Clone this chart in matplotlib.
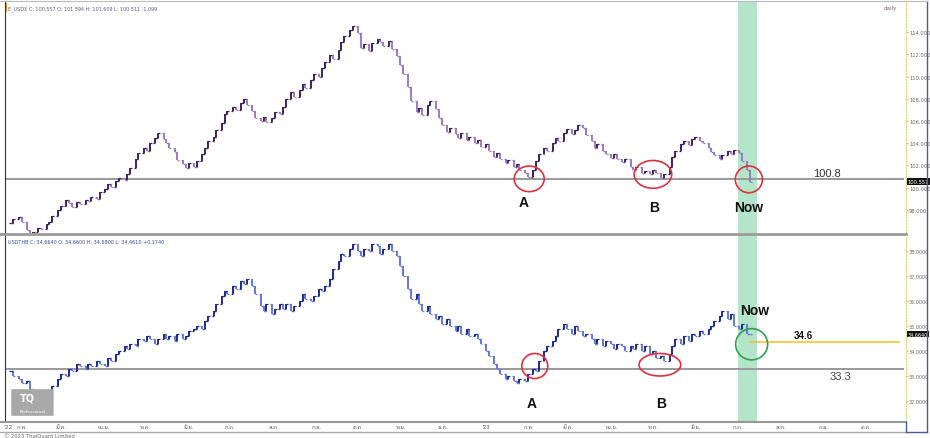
import numpy as np
import pandas as pd
import matplotlib
matplotlib.use('Agg')
import matplotlib.pyplot as plt
from matplotlib.patches import Ellipse, Rectangle, FancyBboxPatch
from matplotlib.lines import Line2D
from matplotlib import font_manager as fm
import matplotlib.dates as mdates

# closes, one bar every 2 business days, ending on 12 Jul 2023
usdx_close = [
    96.8, 97.2, 97.4, 96.9, 96.2, 95.8, 96.0, 96.4, 96.3, 96.7,
    96.9, 97.5, 98.0, 98.4, 98.9, 98.6, 98.3, 98.7, 98.5, 98.9,
    98.8, 99.2, 99.0, 99.6, 99.9, 100.3, 100.1, 100.6, 100.9, 100.7,
    101.2, 101.8, 102.6, 103.1, 103.6, 103.3, 104.0, 104.5, 104.9, 104.4,
    104.0, 103.6, 103.2, 102.5, 102.1, 101.8, 102.2, 101.9, 102.4, 103.0,
    103.6, 104.2, 104.6, 105.2, 105.8, 106.6, 106.9, 107.3, 107.0, 107.6,
    108.0, 107.4, 106.9, 106.3, 106.0, 106.4, 105.9, 106.3, 106.8, 106.6,
    107.3, 108.0, 108.6, 108.2, 108.8, 109.3, 109.0, 109.7, 110.2, 110.0,
    110.8, 111.3, 111.9, 111.6, 112.4, 113.1, 113.6, 114.2, 114.5, 113.9,
    112.6, 112.9, 112.3, 113.0, 113.4, 113.1, 112.7, 113.2, 112.5, 111.8,
    111.0, 110.2, 109.1, 107.8, 106.8, 107.2, 106.5, 107.4, 107.8, 107.1,
    106.3, 105.6, 105.0, 105.4, 104.8, 104.5, 104.9, 104.3, 104.6, 104.0,
    104.3, 103.7, 103.9, 103.3, 102.8, 103.1, 102.6, 102.2, 102.5, 101.9,
    102.1, 101.6, 101.3, 101.0, 101.6, 102.4, 103.0, 103.6, 103.3, 104.0,
    104.5, 104.2, 104.9, 105.3, 104.8, 105.2, 105.6, 105.4, 104.7, 104.2,
    103.6, 103.9, 103.3, 103.0, 102.7, 103.0, 102.6, 102.3, 102.6, 101.9,
    101.6, 101.9, 101.3, 101.5, 101.2, 101.6, 101.3, 100.9, 101.2, 101.9,
    102.8, 103.3, 103.9, 104.2, 103.8, 104.4, 104.6, 104.2, 104.0, 103.6,
    103.2, 102.9, 102.6, 102.9, 103.3, 103.0, 103.4, 103.1, 102.4, 101.6,
    100.557,
]
thb_close = [
    33.2, 33.0, 32.9, 32.7, 32.8, 32.5, 32.4, 32.3, 32.2, 32.4,
    32.3, 32.6, 32.9, 33.1, 33.0, 33.3, 33.2, 33.5, 33.4, 33.3,
    33.5, 33.4, 33.6, 33.5, 33.4, 33.7, 33.6, 33.9, 34.0, 34.2,
    34.1, 34.3, 34.2, 34.5, 34.4, 34.6, 34.5, 34.3, 34.5, 34.7,
    34.5, 34.6, 34.4, 34.7, 34.5, 34.6, 34.8, 34.9, 35.0, 34.9,
    35.2, 35.4, 35.6, 35.9, 36.2, 36.4, 36.3, 36.6, 36.5, 36.8,
    36.7, 36.9, 36.6, 36.3, 35.8, 35.6, 35.9, 35.5, 35.7, 35.9,
    35.7, 35.9, 35.6, 35.8, 36.0, 36.3, 36.1, 36.0, 36.2, 36.5,
    36.4, 36.6, 36.9, 37.3, 37.6, 37.9, 37.8, 38.1, 38.3, 38.0,
    37.8, 38.1, 38.0, 38.3, 38.2, 37.9, 38.1, 38.3, 38.0, 37.8,
    37.4, 37.0, 36.5, 36.1, 36.3, 35.9, 35.6, 35.8, 35.5, 35.3,
    35.4, 35.1, 35.3, 35.0, 34.8, 35.0, 34.7, 34.9, 34.6, 34.7,
    34.5, 34.3, 34.0, 33.8, 33.5, 33.3, 33.1, 32.9, 33.0, 32.8,
    32.7, 32.9, 32.8, 33.1, 33.3, 33.2, 33.6, 34.0, 34.2, 34.4,
    34.6, 34.9, 35.1, 34.9, 34.7, 35.0, 34.8, 34.6, 34.7, 34.5,
    34.3, 34.5, 34.2, 34.4, 34.3, 34.1, 34.3, 34.2, 34.0, 34.2,
    34.1, 34.3, 34.0, 34.2, 33.9, 34.0, 33.7, 33.8, 33.6, 33.9,
    34.2, 34.5, 34.3, 34.6, 34.4, 34.7, 34.6, 34.8, 34.7, 34.9,
    35.0, 35.2, 35.4, 35.6, 35.3, 35.5, 35.0, 34.9, 35.1, 34.7,
    34.664,
]
dates = pd.bdate_range(end='2023-07-12', periods=len(usdx_close), freq='2B')

usdx_level = 100.8
thb_support = 33.3
thb_now = 34.35
usdx_ticks = [98, 100, 102, 104, 106, 108, 110, 112, 114]
thb_ticks = [32, 33, 34, 35, 36, 37, 38]
thai_months = ['ม.ค.', 'ก.พ.', 'มี.ค.', 'เม.ย.', 'พ.ค.', 'มิ.ย.',
               'ก.ค.', 'ส.ค.', 'ก.ย.', 'ต.ค.', 'พ.ย.', 'ธ.ค.']

# look for a font that has Thai glyphs
thai_font = 'DejaVu Sans'
try:
    from fontTools.ttLib import TTFont
    for f in fm.fontManager.ttflist:
        try:
            if 0x0E01 in TTFont(f.fname, fontNumber=0, lazy=True).getBestCmap():
                thai_font = f.name
                break
        except Exception:
            pass
except ImportError:
    pass

W, H = 930, 439
fig = plt.figure(figsize=(9.3, 4.39), dpi=100)
fig.patch.set_facecolor('white')

def px_axes(x0, y0, x1, y1):
    return fig.add_axes([x0 / W, 1 - y1 / H, (x1 - x0) / W, (y1 - y0) / H])

ax1 = px_axes(5, 3, 906, 234)
ax2 = px_axes(5, 237, 906, 422)

xmin, xmax = pd.Timestamp('2022-01-22'), pd.Timestamp('2023-11-01')
now_lo, now_hi = pd.Timestamp('2023-07-03'), pd.Timestamp('2023-07-17')

def draw_bars(ax, closes, up_col, dn_col):
    c = np.array(closes)
    o = np.r_[c[0], c[:-1]]
    cols = [up_col if cc >= oo else dn_col for oo, cc in zip(o, c)]
    ax.vlines(dates, np.minimum(o, c), np.maximum(o, c), colors=cols, lw=1.4, zorder=3)
    half = pd.Timedelta(hours=34)
    ax.hlines(o, dates - half, dates, colors=cols, lw=0.9, zorder=3)
    ax.hlines(c, dates, dates + half, colors=cols, lw=0.9, zorder=3)

for ax in (ax1, ax2):
    ax.set_xlim(xmin, xmax)
    ax.axvspan(now_lo, now_hi, color='#b4e4c9', lw=0, zorder=0)
    ax.yaxis.tick_right()
    ax.tick_params(axis='y', labelsize=3.7, labelcolor='#666666', length=1.5,
                   color='#d8c860', pad=0.6, direction='out')
    ax.tick_params(axis='x', length=0, labelbottom=False)
    for s in ('top', 'bottom'):
        ax.spines[s].set_visible(False)
    ax.spines['left'].set_color('#333333')
    ax.spines['right'].set_color('#e0d070')
    ax.spines['right'].set_linestyle(':')

# --- top panel: USDX
draw_bars(ax1, usdx_close, '#3e2060', '#9a7cc0')
ax1.set_ylim(95.93, 116.7)
ax1.set_yticks(usdx_ticks)
ax1.set_yticklabels(['%.3f' % t for t in usdx_ticks])
ax1.plot([xmin, pd.Timestamp('2023-10-30')], [usdx_level] * 2, color='#999999', lw=1.4, zorder=2)
ax1.text(0.99, 0.975, 'daily', transform=ax1.transAxes, fontsize=4.0, color='#7a6a8a',
         ha='right', va='center')
ax1.text(0.003, 0.975, 'E_USDX C: 100.557 O: 101.594 H: 101.609 L: 100.511 -1.099',
         transform=ax1.transAxes, fontsize=3.5, color='#5a5a8a', va='center')
ax1.add_patch(Rectangle((0, 0.955), 0.0025, 0.04, transform=ax1.transAxes,
                        color='#f0a030', lw=0, clip_on=False))
ax1.text(1.002, (usdx_close[-1] - 95.93) / (116.7 - 95.93), '100.557', transform=ax1.transAxes,
         fontsize=3.7, color='white', va='center', ha='left',
         bbox=dict(boxstyle='square,pad=0.12', fc='#111111', ec='none'))

red = '#e03040'
for d, v, w, h in [('2023-02-03', 100.8, 21.6, 2.3), ('2023-05-03', 101.2, 27.0, 2.5),
                   ('2023-07-11', 100.75, 19.5, 2.4)]:
    ax1.add_patch(Ellipse((mdates.date2num(pd.Timestamp(d)), v), w, h, fill=False,
                          ec=red, lw=1.2, zorder=5))
bold = dict(fontsize=10, fontweight='bold', family='Liberation Sans', ha='center', va='center',
            color='#111111')
ax1.text(pd.Timestamp('2023-01-30'), 98.7, 'A', **bold)
ax1.text(pd.Timestamp('2023-05-04'), 98.25, 'B', **bold)
ax1.text(pd.Timestamp('2023-07-11'), 98.25, 'Now', **bold)
ax1.text(pd.Timestamp('2023-09-05'), 101.35, '100.8', fontsize=8, color='#333333',
         family='Liberation Sans', ha='center', va='center')

# --- bottom panel: USDTHB
draw_bars(ax2, thb_close, '#1c2a8c', '#6478d8')
ax2.set_ylim(31.2, 38.6)
ax2.set_yticks(thb_ticks)
ax2.set_yticklabels(['%.4f' % t for t in thb_ticks])
ax2.tick_params(axis='y', labelsize=3.5)
ax2.plot([xmin, pd.Timestamp('2023-10-30')], [thb_support] * 2, color='#999999', lw=1.4, zorder=2)
ax2.plot([pd.Timestamp('2023-07-12'), pd.Timestamp('2023-10-27')], [thb_now, thb_now],
         color='#f0c020', lw=1.1, zorder=2)
ax2.text(0.003, 0.97, 'USDTHB C: 34.6640 O: 34.6600 H: 34.6800 L: 34.4610 +0.1740',
         transform=ax2.transAxes, fontsize=3.5, color='#3a4aa0', va='center')
ax2.text(1.002, (34.664 - 31.2) / (38.6 - 31.2), '34.6640', transform=ax2.transAxes,
         fontsize=3.5, color='white', va='center', ha='left',
         bbox=dict(boxstyle='square,pad=0.12', fc='#111111', ec='none'))
for d, v, w, h in [('2023-02-07', 33.4, 18.7, 1.0), ('2023-05-08', 33.45, 30.0, 0.9)]:
    ax2.add_patch(Ellipse((mdates.date2num(pd.Timestamp(d)), v), w, h, fill=False,
                          ec=red, lw=1.2, zorder=5))
ax2.add_patch(Ellipse((mdates.date2num(pd.Timestamp('2023-07-13')), 34.27), 23.0, 1.25,
                      fill=False, ec='#30a050', lw=1.2, zorder=5))
ax2.text(pd.Timestamp('2023-02-05'), 31.9, 'A', **bold)
ax2.text(pd.Timestamp('2023-05-09'), 31.9, 'B', **bold)
ax2.text(pd.Timestamp('2023-07-15'), 35.65, 'Now', **bold)
ax2.text(pd.Timestamp('2023-08-19'), 34.65, '34.6', fontsize=7, fontweight='bold',
         color='#111111', family='Liberation Sans', ha='center', va='center')
ax2.text(pd.Timestamp('2023-09-15'), 33.0, '33.3', fontsize=8, color='#444444',
         family='Liberation Sans', ha='center', va='center')

# logo
ax2.add_patch(FancyBboxPatch((0.009, 0.03), 0.043, 0.14, boxstyle='round,pad=0.002',
                             transform=ax2.transAxes, fc='#a8a8a8', ec='none', zorder=6))
ax2.text(0.016, 0.125, 'TQ', transform=ax2.transAxes, fontsize=7, fontweight='bold',
         color='white', va='center', zorder=7)
ax2.text(0.0305, 0.055, 'Professional', transform=ax2.transAxes, fontsize=3.2,
         color='white', ha='center', va='center', zorder=7)

# month axis strip
for yy, c, lw in [(423, '#999999', 1.5), (433, '#aaaaaa', 1.0), (235, '#999999', 2.0)]:
    fig.add_artist(Line2D([0, 906 / W], [1 - yy / H] * 2, color=c, lw=lw))
fig.add_artist(Line2D([927 / W] * 2, [1 - 433 / H, 1 - 2 / H], color='#4a5a9a', lw=1.0))
fig.add_artist(Line2D([0, 927 / W], [1 - 2 / H] * 2, color='#bbbbbb', lw=0.8))
fig.add_artist(Line2D([906 / W, 927 / W], [1 - 433 / H] * 2, color='#4a5a9a', lw=1.0))
fig.add_artist(Line2D([906 / W] * 2, [1 - 433 / H, 1 - 423 / H], color='#4a5a9a', lw=1.0))

months = pd.date_range('2022-02-01', '2023-10-01', freq='MS')
for m in months:
    lab = "'23" if (m.month == 1) else thai_months[m.month - 1]
    xf = (5 + (mdates.date2num(m) - mdates.date2num(xmin)) /
          (mdates.date2num(xmax) - mdates.date2num(xmin)) * 901 + 3) / W
    fig.text(xf, 1 - 428 / H, lab, fontsize=4.2, color='#555555', ha='center', va='center',
             family=[thai_font, 'DejaVu Sans'])
fig.text(3 / W, 1 - 428 / H, "'22", fontsize=4.2, color='#555555', ha='left', va='center')
fig.text(4 / W, 1 - 437 / H, '© 2023 ThaiQuant Limited', fontsize=3.8, color='#666666',
         ha='left', va='center')

fig.savefig('out.png', dpi=100)
